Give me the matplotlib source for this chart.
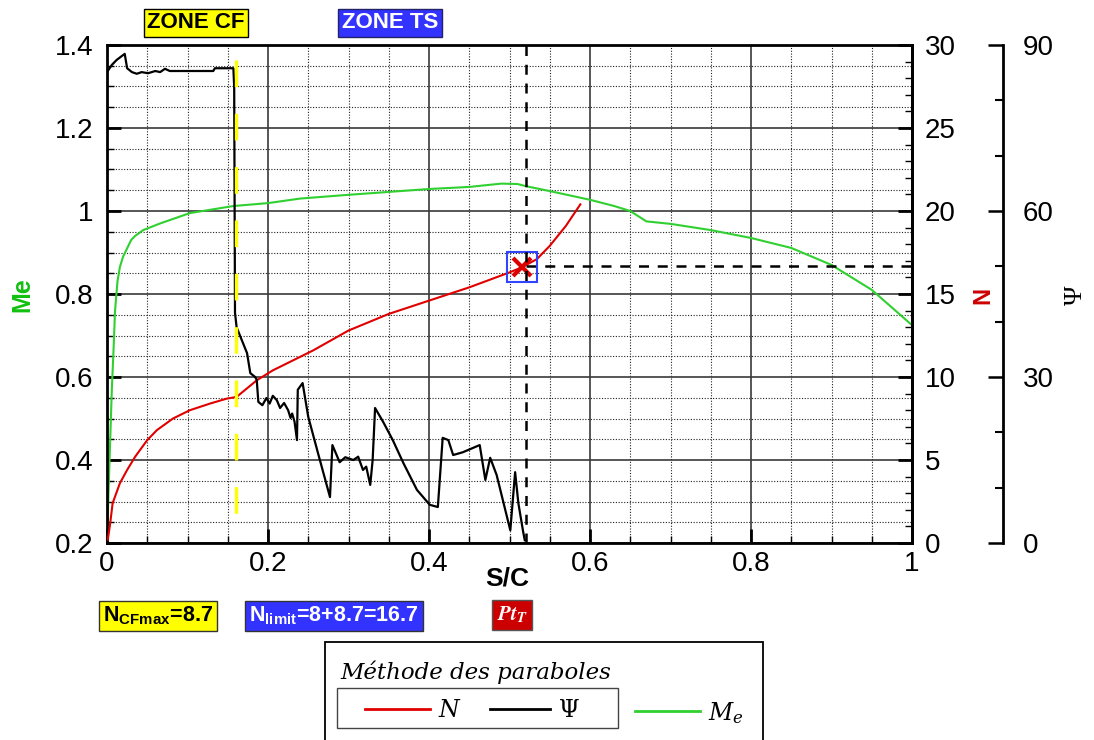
import matplotlib.pyplot as plt
from matplotlib.lines import Line2D
from matplotlib.patches import Rectangle
from matplotlib.ticker import MultipleLocator, FuncFormatter

plt.rcParams['font.family'] = ['Liberation Sans', 'DejaVu Sans']
plt.rcParams['mathtext.fontset'] = 'custom'
plt.rcParams['mathtext.rm'] = 'Liberation Sans'
plt.rcParams['mathtext.bf'] = 'Liberation Sans:bold'
plt.rcParams['mathtext.it'] = 'Liberation Sans:italic'

# --- data ---
# Me, edge Mach number (left axis)
me_s = [0.0, 0.002, 0.004, 0.006, 0.008, 0.010, 0.013, 0.016, 0.020, 0.025, 0.030,
        0.035, 0.045, 0.066, 0.103, 0.157, 0.20, 0.24, 0.30, 0.35, 0.40, 0.45,
        0.49, 0.51, 0.52, 0.55, 0.60, 0.63, 0.65, 0.67, 0.70, 0.75, 0.80, 0.85,
        0.90, 0.95, 1.0]
me_v = [0.20, 0.33, 0.45, 0.57, 0.66, 0.76, 0.83, 0.865, 0.89, 0.91, 0.93,
        0.94, 0.954, 0.97, 0.995, 1.012, 1.019, 1.03, 1.039, 1.046, 1.053, 1.058,
        1.066, 1.065, 1.06, 1.048, 1.027, 1.012, 1.0, 0.975, 0.969, 0.954, 0.935, 0.911,
        0.87, 0.81, 0.725]

# N factor (red)
n_s = [0.001, 0.004, 0.007, 0.016, 0.025, 0.035, 0.05, 0.062, 0.082, 0.103, 0.128,
       0.149, 0.161, 0.186, 0.206, 0.256, 0.30, 0.35, 0.40, 0.45, 0.50, 0.515,
       0.534, 0.55, 0.57, 0.588]
n_v = [0.2, 1.2, 2.4, 3.6, 4.4, 5.2, 6.2, 6.8, 7.5, 8.0, 8.4,
       8.7, 8.8, 9.8, 10.4, 11.6, 12.8, 13.8, 14.6, 15.4, 16.3, 16.6,
       17.1, 17.9, 19.1, 20.4]

# Psi, crossflow angle (black)
psi_s = [0.0, 0.006, 0.012, 0.022, 0.025, 0.031, 0.037, 0.043, 0.051, 0.060, 0.066,
         0.072, 0.078, 0.094, 0.116, 0.132, 0.134, 0.157, 0.158, 0.159, 0.161, 0.174,
         0.178, 0.184, 0.186, 0.188, 0.193, 0.198, 0.202, 0.206, 0.211, 0.215, 0.220,
         0.225, 0.228, 0.230, 0.233, 0.236, 0.237, 0.243, 0.250, 0.262, 0.277, 0.280,
         0.289, 0.296, 0.306, 0.312, 0.318, 0.322, 0.327, 0.330, 0.333, 0.343, 0.355,
         0.368, 0.385, 0.401, 0.411, 0.417, 0.424, 0.430, 0.442, 0.463, 0.470, 0.476,
         0.484, 0.501, 0.507, 0.511, 0.517, 0.519]
psi_v = [85.1, 86.4, 87.3, 88.4, 85.8, 85.1, 84.8, 85.1, 84.9, 85.3, 85.1,
         85.7, 85.3, 85.3, 85.3, 85.3, 85.8, 85.8, 82.4, 41.6, 39.0, 34.3,
         30.7, 30.0, 29.5, 25.5, 24.9, 26.2, 25.2, 26.6, 25.8, 24.4, 25.3,
         24.0, 22.6, 23.4, 21.9, 18.6, 27.7, 28.9, 22.8, 16.3, 8.3, 17.7,
         14.6, 15.5, 15.0, 15.6, 13.2, 13.8, 10.5, 15.0, 24.4, 21.9, 18.6,
         14.5, 9.6, 6.9, 6.5, 19.0, 18.6, 15.9, 16.4, 17.7, 11.4, 15.4,
         12.3, 2.3, 12.8, 7.2, 2.0, 0.5]

x_ticks = [0, 0.2, 0.4, 0.6, 0.8, 1.0]
s_cf = 0.16          # end of crossflow zone
n_cf_max = 8.7
s_limit = 0.52       # transition abscissa
n_limit = 16.7
pt_s, pt_n = 0.515, 16.65

GREEN = '#2fd02f'
RED = '#e00000'

W, H = 1094, 740
fig = plt.figure(figsize=(W / 100, H / 100), dpi=100)


def fx(px):
    return px / W


def fy(py):
    return 1 - py / H


ax = fig.add_axes([fx(107), fy(543), 805 / W, 498 / H])
ax2 = ax.twinx()
ax3 = ax.twinx()

# main axes (Me)
ax.set_xlim(0, 1)
ax.set_ylim(0.2, 1.4)
ax.set_xticks(x_ticks)
ax.xaxis.set_minor_locator(MultipleLocator(0.05))
ax.yaxis.set_major_locator(MultipleLocator(0.2))
ax.yaxis.set_minor_locator(MultipleLocator(0.05))
fmt = FuncFormatter(lambda v, _: f'{v:g}')
ax.xaxis.set_major_formatter(fmt)
ax.yaxis.set_major_formatter(fmt)
ax.grid(which='major', color='#3a3a3a', lw=1.2, ls='-')
ax.grid(which='minor', color='#222222', lw=0.8, ls=(0, (1, 1.5)))
ax.tick_params(which='both', direction='in', labelsize=20, top=False, right=False)
ax.tick_params(which='major', length=10, width=2)
ax.tick_params(which='minor', length=5, width=1)
ax.tick_params(axis='y', pad=10)
ax.tick_params(axis='x', pad=6)
for sp in ax.spines.values():
    sp.set_linewidth(2)

# N axis
ax2.set_ylim(0, 30)
ax2.yaxis.set_major_locator(MultipleLocator(5))
ax2.yaxis.set_minor_locator(MultipleLocator(1))
ax2.tick_params(which='both', direction='in', labelsize=20, pad=9)
ax2.tick_params(which='major', length=10, width=2)
ax2.tick_params(which='minor', length=5, width=1)
for sp in ax2.spines.values():
    sp.set_visible(False)
ax2.spines['right'].set_visible(True)
ax2.spines['right'].set_linewidth(2)

# Psi axis
ax3.set_ylim(0, 90)
ax3.yaxis.set_major_locator(MultipleLocator(30))
ax3.yaxis.set_minor_locator(MultipleLocator(10))
ax3.tick_params(which='both', direction='in', labelsize=20, pad=14)
ax3.tick_params(which='major', length=11, width=1.8)
ax3.tick_params(which='minor', length=6, width=1.5)
for sp in ax3.spines.values():
    sp.set_visible(False)
ax3.spines['right'].set_visible(True)
ax3.spines['right'].set_position(('outward', 65.5))
ax3.spines['right'].set_linewidth(2)

# curves
ax.plot(me_s, me_v, color=GREEN, lw=1.5)
ax2.plot(n_s, n_v, color=RED, lw=1.5)
ax3.plot(psi_s, psi_v, color='black', lw=1.6)

# zone markers
ax3.plot([s_cf, s_cf], [1.364, 0.27], transform=ax.transData,
         color='#ffff00', lw=2.4, ls=(0, (8, 8)), zorder=5)
ax3.axvline(s_limit, color='black', lw=1.8, ls=(0, (4, 3.5)))
ax2.plot([s_limit, 1.0], [n_limit, n_limit], color='black', lw=1.8, ls=(0, (4, 3.5)))
ax2.plot(pt_s, pt_n, marker='s', ms=22, mfc='none', mec='#3344ff', mew=1.5)
ax2.plot(pt_s, pt_n, marker='x', ms=13, mec='#dd0000', mew=3)

# axis titles
fig.text(fx(22), fy(295), 'Me', color='#11c011', fontsize=18, fontweight='bold',
         rotation=90, ha='center', va='center')
fig.text(fx(983), fy(295), 'N', color='#cc0000', fontsize=17, fontweight='bold',
         rotation=90, ha='center', va='center')
fig.text(fx(1076), fy(295), 'Ψ', color='black', fontsize=19, family='Liberation Serif',
         rotation=90, ha='center', va='center')
fig.text(fx(507), fy(578), 'S/C', fontsize=19, fontweight='bold', ha='center', va='center')

# zone tags
fig.text(fx(196), fy(23), 'ZONE CF', fontsize=16, fontweight='bold', ha='center', va='center',
         bbox=dict(boxstyle='square,pad=0.15', fc='#ffff00', ec='black', lw=1))
fig.text(fx(390), fy(23), 'ZONE TS', fontsize=16, fontweight='bold', color='white',
         ha='center', va='center',
         bbox=dict(boxstyle='square,pad=0.15', fc='#3333ff', ec='#222266', lw=1))
fig.text(fx(158), fy(616), r'$\mathbf{N}_{\mathbf{CFmax}}$' + f'={n_cf_max}', fontsize=15.5,
         fontweight='bold', ha='center', va='center',
         bbox=dict(boxstyle='square,pad=0.18', fc='#ffff00', ec='#333333', lw=1))
fig.text(fx(334), fy(616), r'$\mathbf{N}_{\mathbf{limit}}$' + f'=8+{n_cf_max}={n_limit}',
         fontsize=15.5, fontweight='bold', color='white', ha='center', va='center',
         bbox=dict(boxstyle='square,pad=0.18', fc='#3333ff', ec='#333333', lw=1))
fig.text(fx(512), fy(615), r'$\mathbfit{Pt}_{\mathbfit{T}}$', fontsize=15, color='white',
         math_fontfamily='stix', ha='center', va='center',
         bbox=dict(boxstyle='square,pad=0.22', fc='#cc0000', ec='#555555', lw=1))

# legend box
fig.add_artist(Rectangle((fx(325), fy(750)), fx(763) - fx(325), fy(642) - fy(750),
                         transform=fig.transFigure, fill=False, ec='black', lw=1.3))
fig.add_artist(Rectangle((fx(337), fy(728)), fx(618) - fx(337), fy(688) - fy(728),
                         transform=fig.transFigure, fill=False, ec='#444444', lw=1))
fig.text(fx(340), fy(672), 'Méthode des paraboles', fontsize=16.5, style='italic',
         family='DejaVu Serif', ha='left', va='center')
entries = [(RED, r'$N$', 365, 430, 709), ('black', r'$\Psi$', 490, 550, 709),
           (GREEN, r'$M_e$', 635, 700, 711)]
for col, lab, x1, x2, y in entries:
    fig.add_artist(Line2D([fx(x1), fx(x2)], [fy(y), fy(y)], transform=fig.transFigure,
                          color=col, lw=2))
    fig.text(fx(x2 + 8), fy(y + 2), lab, fontsize=17, math_fontfamily='dejavuserif',
             ha='left', va='center')

fig.savefig('out.png', dpi=100)
